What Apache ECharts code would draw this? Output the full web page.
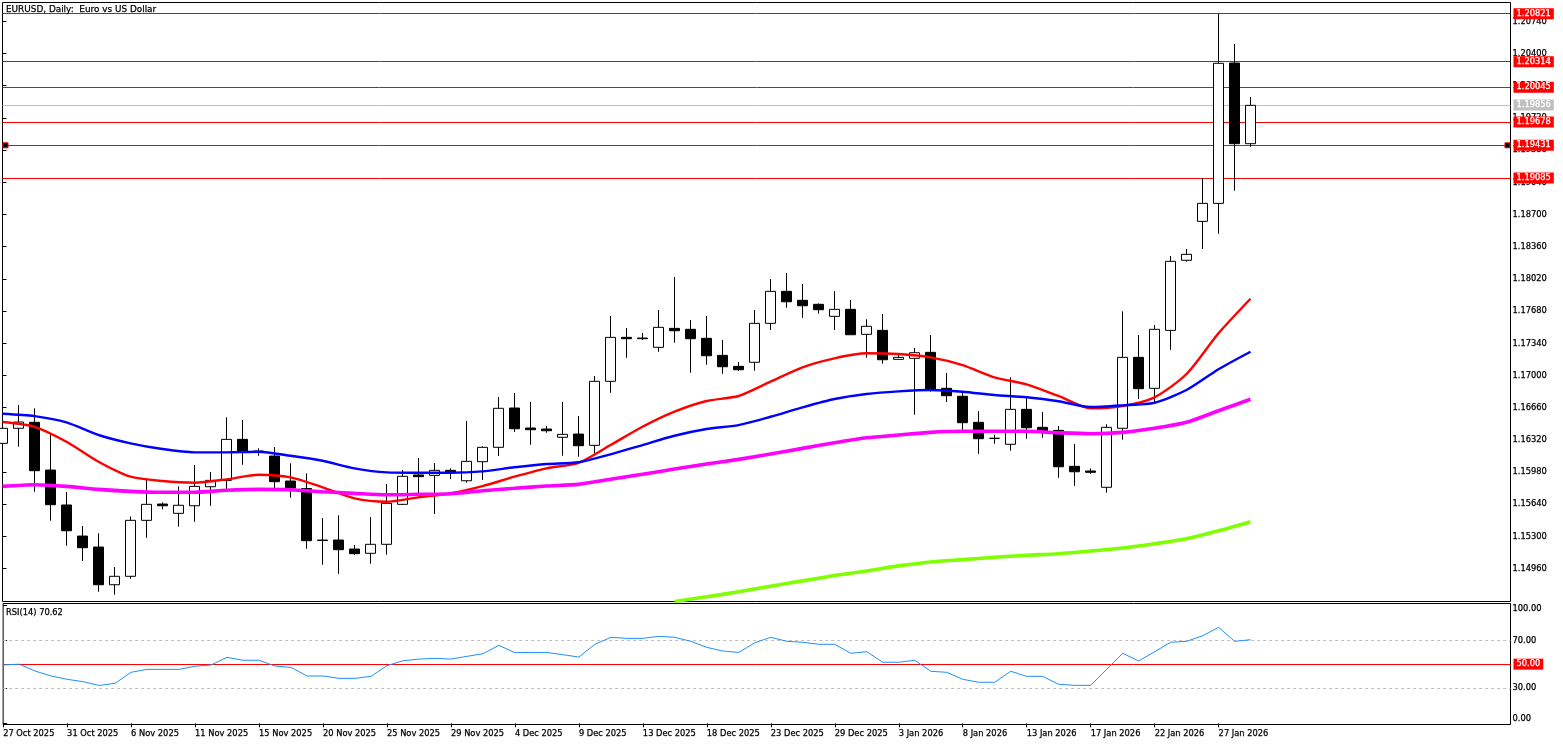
<!DOCTYPE html>
<html>
<head>
<meta charset="utf-8">
<title>EURUSD Daily</title>
<script src="https://cdn.jsdelivr.net/npm/echarts@6/dist/echarts.min.js"></script>
<style>
  html, body { margin: 0; padding: 0; background: #fff; }
  #chart { width: 1563px; height: 745px; }
</style>
</head>
<body>
<div id="chart"></div>
<script>
const opens = [
  1.16284, 1.16443, 1.16506, 1.16002, 1.15633, 1.15305, 1.15189, 1.14791, 1.14880, 1.15471,
  1.15643, 1.15545, 1.15625, 1.15826, 1.15893, 1.16326, 1.16203, 1.16150, 1.15886, 1.15807,
  1.15263, 1.15263, 1.15168, 1.15123, 1.15218, 1.15640, 1.15950, 1.15946, 1.15999, 1.15889,
  1.16090, 1.16242, 1.16657, 1.16446, 1.16435, 1.16348, 1.16382, 1.16263, 1.16939, 1.17403,
  1.17396, 1.17298, 1.17498, 1.17488, 1.17393, 1.17213, 1.17097, 1.17140, 1.17551, 1.17889,
  1.17794, 1.17752, 1.17625, 1.17699, 1.17435, 1.17477, 1.17171, 1.17182, 1.17245, 1.16865,
  1.16781, 1.16506, 1.16337, 1.16274, 1.16643, 1.16453, 1.16421, 1.16041, 1.15992, 1.15820,
  1.16443, 1.17192, 1.16865, 1.17477, 1.18217, 1.18628, 1.18818, 1.20300, 1.19448
];
const closes = [
  1.16443, 1.16509, 1.15995, 1.15636, 1.15361, 1.15182, 1.14791, 1.14880, 1.15471, 1.15640,
  1.15625, 1.15630, 1.15830, 1.15893, 1.16326, 1.16203, 1.16192, 1.15879, 1.15812, 1.15256,
  1.15258, 1.15161, 1.15119, 1.15218, 1.15651, 1.15936, 1.15932, 1.15999, 1.15978, 1.16094,
  1.16242, 1.16654, 1.16438, 1.16428, 1.16417, 1.16379, 1.16259, 1.16939, 1.17403, 1.17389,
  1.17389, 1.17509, 1.17473, 1.17389, 1.17209, 1.17093, 1.17061, 1.17551, 1.17889, 1.17779,
  1.17737, 1.17695, 1.17699, 1.17431, 1.17520, 1.17167, 1.17192, 1.17241, 1.16854, 1.16787,
  1.16502, 1.16333, 1.16337, 1.16643, 1.16449, 1.16417, 1.16037, 1.15984, 1.15978, 1.16453,
  1.17192, 1.16861, 1.17488, 1.18206, 1.18280, 1.18818, 1.20297, 1.19448, 1.19853
];
const lows = [
  1.16256, 1.16248, 1.15773, 1.15467, 1.15203, 1.15041, 1.14717, 1.14686, 1.14854, 1.15287,
  1.15587, 1.15404, 1.15456, 1.15625, 1.15798, 1.16058, 1.16153, 1.15809, 1.15710, 1.15171,
  1.15002, 1.14907, 1.15105, 1.15013, 1.15108, 1.15633, 1.15720, 1.15538, 1.15907, 1.15868,
  1.15897, 1.16150, 1.16404, 1.16269, 1.16396, 1.16153, 1.16143, 1.16179, 1.16818, 1.17188,
  1.17375, 1.17251, 1.17346, 1.17030, 1.17114, 1.17019, 1.17048, 1.17051, 1.17481, 1.17716,
  1.17610, 1.17653, 1.17481, 1.17431, 1.17188, 1.17125, 1.17167, 1.16586, 1.16829, 1.16720,
  1.16417, 1.16174, 1.16280, 1.16206, 1.16333, 1.16343, 1.15921, 1.15836, 1.15963, 1.15763,
  1.16322, 1.16752, 1.16710, 1.17272, 1.18202, 1.18336, 1.18497, 1.18951, 1.19416
];
const highs = [
  1.16467, 1.16689, 1.16654, 1.16390, 1.15770, 1.15411, 1.15334, 1.14978, 1.15513, 1.15897,
  1.15661, 1.15830, 1.16055, 1.15981, 1.16559, 1.16530, 1.16231, 1.16245, 1.16073, 1.15967,
  1.15495, 1.15524, 1.15210, 1.15506, 1.15854, 1.16002, 1.16129, 1.16076, 1.16020, 1.16520,
  1.16252, 1.16773, 1.16815, 1.16720, 1.16467, 1.16720, 1.16572, 1.16995, 1.17628, 1.17502,
  1.17449, 1.17692, 1.18040, 1.17586, 1.17628, 1.17375, 1.17143, 1.17692, 1.18019, 1.18082,
  1.17966, 1.17762, 1.17892, 1.17797, 1.17594, 1.17650, 1.17227, 1.17291, 1.17428, 1.17027,
  1.16826, 1.16625, 1.16375, 1.16981, 1.16759, 1.16615, 1.16467, 1.16277, 1.16020, 1.16485,
  1.17678, 1.17428, 1.17533, 1.18262, 1.18336, 1.19086, 1.20820, 1.20500, 1.19941
];

// moving averages, read every second candle
const maRed = [
  1.16509, 1.16459, 1.16301, 1.16090, 1.15932, 1.15886, 1.15868, 1.15904, 1.15953, 1.15925,
  1.15820, 1.15703, 1.15668, 1.15714, 1.15756, 1.15833, 1.15932, 1.16020, 1.16079, 1.16266,
  1.16459, 1.16618, 1.16731, 1.16784, 1.16935, 1.17087, 1.17182, 1.17235, 1.17227, 1.17192,
  1.17111, 1.16981, 1.16907, 1.16784, 1.16654, 1.16678, 1.16770, 1.17016, 1.17446, 1.17811
];
const maBlue = [
  1.16597, 1.16572, 1.16506, 1.16372, 1.16284, 1.16224, 1.16189, 1.16189, 1.16195, 1.16153,
  1.16100, 1.16020, 1.15978, 1.15974, 1.15974, 1.15988, 1.16031, 1.16066, 1.16084, 1.16168,
  1.16266, 1.16364, 1.16435, 1.16477, 1.16565, 1.16664, 1.16752, 1.16805, 1.16833, 1.16847,
  1.16829, 1.16794, 1.16770, 1.16728, 1.16667, 1.16685, 1.16713, 1.16847, 1.17066, 1.17251
];
const maMagenta = [
  1.15830, 1.15847, 1.15830, 1.15798, 1.15777, 1.15767, 1.15767, 1.15788, 1.15798, 1.15794,
  1.15773, 1.15756, 1.15741, 1.15746, 1.15752, 1.15784, 1.15809, 1.15833, 1.15851, 1.15904,
  1.15957, 1.16013, 1.16066, 1.16115, 1.16171, 1.16231, 1.16290, 1.16343, 1.16372, 1.16400,
  1.16411, 1.16411, 1.16411, 1.16396, 1.16386, 1.16400, 1.16443, 1.16506, 1.16628, 1.16749
];
// the green one only enters the visible range at candle 42
const maGreenStart = 42;
const maGreen = [
  1.14614, 1.14664, 1.14716, 1.14776, 1.14832, 1.14888, 1.14937, 1.14990, 1.15031, 1.15056,
  1.15081, 1.15102, 1.15119, 1.15147, 1.15179, 1.15224, 1.15276, 1.15360, 1.15457
];

const rsiValues = [
  49.3, 50, 44.2, 40, 37.2, 35.2, 32, 33.8, 43.1, 45.6, 45.6, 45.6, 48.2, 49.3, 55.8, 53.3,
  53.3, 48.4, 47.3, 40, 40, 38, 38, 39.7, 48.7, 52.9, 54.3, 54.9, 54.3, 56.6, 58.8, 65.9,
  59.7, 59.9, 59.9, 58, 56, 66.8, 72.7, 71.8, 71.8, 73.5, 72.7, 69.3, 64.2, 61.1, 59.9, 68.1,
  72.7, 69.3, 68.5, 66.8, 66.8, 59.2, 60.5, 51.6, 51.6, 53.3, 44, 43.1, 37.2, 34.7, 34.7, 44,
  39.7, 39.7, 33, 32.1, 32.1, 45.6, 59.2, 52.7, 60.5, 68.5, 69.3, 74, 81.1, 69.3, 70.62
];

const dateLabels = [
  '27 Oct 2025', '31 Oct 2025', '6 Nov 2025', '11 Nov 2025', '15 Nov 2025', '20 Nov 2025',
  '25 Nov 2025', '29 Nov 2025', '4 Dec 2025', '9 Dec 2025', '13 Dec 2025', '18 Dec 2025',
  '23 Dec 2025', '29 Dec 2025', '3 Jan 2026', '8 Jan 2026', '13 Jan 2026', '17 Jan 2026',
  '22 Jan 2026', '27 Jan 2026'
];
const priceTicks = [
  1.20740, 1.20400, 1.20060, 1.19720, 1.19380, 1.19040, 1.18700, 1.18360, 1.18020, 1.17680,
  1.17340, 1.17000, 1.16660, 1.16320, 1.15980, 1.15640, 1.15300, 1.14960
];
const rsiTicks = [0, 30, 70, 100];
const redLevels = [1.20821, 1.20314, 1.20045, 1.19678, 1.19431, 1.19085];
const lastPrice = 1.19856;
const selectedLevel = 1.19431;

const FONT = '"DejaVu Sans"';
const FSIZE = 8.3;
const CANDLES_PER_LABEL = 4;
const xMax = 94.25;
// the original text is a hard bitmap font, a hairline stroke gets close to its weight
const darkText = { color: '#000', fontFamily: FONT, fontSize: FSIZE, textBorderColor: '#000', textBorderWidth: 0.25 };
const tagText = {
  show: true,
  position: 'end',
  distance: 3,
  color: '#fff',
  padding: [2, 3, 1, 3],
  fontFamily: FONT,
  fontSize: FSIZE,
  textBorderColor: '#fff',
  textBorderWidth: 0.25
};

const tickValues = dateLabels.map((d, i) => i * CANDLES_PER_LABEL);
const candleData = opens.map((o, i) => [i, o, closes[i], lows[i], highs[i]]);
const everySecond = arr => arr.map((v, i) => [i * 2, v]);

function maLine(name, color, width, data) {
  return {
    name: name,
    type: 'line',
    data: data,
    symbol: 'none',
    smooth: 0.25,
    silent: true,
    z: 3,
    lineStyle: { color: color, width: width }
  };
}

function levelLine(value, color) {
  return {
    yAxis: value,
    lineStyle: { color: color, width: 1, type: 'solid' },
    label: Object.assign({}, tagText, { formatter: value.toFixed(5), backgroundColor: color })
  };
}

const chart = echarts.init(document.getElementById('chart'));
chart.setOption({
  animation: false,
  backgroundColor: '#fff',
  title: [
    {
      text: 'EURUSD, Daily:  Euro vs US Dollar',
      left: 6, top: 5, padding: 0,
      textStyle: Object.assign({}, darkText, { fontSize: 8.9, fontWeight: 'normal' })
    },
    {
      text: 'RSI(14) 70.62',
      left: 6, top: 609, padding: 0,
      textStyle: Object.assign({}, darkText, { fontWeight: 'normal' })
    }
  ],
  grid: [
    { left: 2.5, top: 2.5, width: 1508, height: 599, show: true, borderColor: '#000', borderWidth: 1, backgroundColor: '#fff' },
    { left: 2.5, top: 603.5, width: 1508, height: 121, show: true, borderColor: '#000', borderWidth: 1, backgroundColor: '#fff' }
  ],
  xAxis: [
    {
      type: 'value', gridIndex: 0, min: 0, max: xMax,
      axisLine: { show: false }, axisTick: { show: false }, axisLabel: { show: false }, splitLine: { show: false }
    },
    {
      type: 'value', gridIndex: 1, min: 0, max: xMax,
      axisLine: { show: false },
      axisTick: { show: true, length: 4, customValues: tickValues, lineStyle: { color: '#000' } },
      axisLabel: Object.assign({}, darkText, {
        show: true,
        customValues: tickValues,
        formatter: v => dateLabels[v / CANDLES_PER_LABEL],
        align: 'left',
        margin: 5
      }),
      splitLine: { show: false }
    }
  ],
  yAxis: [
    {
      type: 'value', gridIndex: 0, position: 'right', min: 1.14614, max: 1.20939,
      axisLine: { show: false },
      axisTick: { show: true, length: 4, customValues: priceTicks, lineStyle: { color: '#000' } },
      axisLabel: Object.assign({}, darkText, {
        show: true,
        customValues: priceTicks,
        formatter: v => v.toFixed(5),
        margin: 2
      }),
      splitLine: { show: false }
    },
    {
      type: 'value', gridIndex: 1, position: 'right', min: -1, max: 101.27,
      axisLine: { show: false },
      axisTick: { show: true, length: 4, customValues: rsiTicks, lineStyle: { color: '#000' } },
      axisLabel: Object.assign({}, darkText, {
        show: true,
        customValues: rsiTicks,
        formatter: v => v.toFixed(2),
        margin: 2,
        verticalAlignMinLabel: 'bottom',
        verticalAlignMaxLabel: 'top'
      }),
      splitLine: { show: false }
    }
  ],
  series: [
    {
      // horizontal levels sit behind the candles, their tags over the axis labels
      name: 'levels',
      type: 'line',
      xAxisIndex: 0, yAxisIndex: 0,
      data: [],
      z: 1,
      silent: true,
      markLine: {
        silent: true,
        symbol: 'none',
        animation: false,
        precision: 5,
        z: 1,
        data: [levelLine(lastPrice, '#c0c0c0')].concat(redLevels.map(v => levelLine(v, '#ff0000')))
      },
      markPoint: {
        silent: true,
        animation: false,
        z: 1,
        symbol: 'rect',
        symbolSize: 5,
        label: { show: false },
        itemStyle: { color: '#000', borderColor: '#ff0000', borderWidth: 1 },
        data: [
          { coord: [0.19, selectedLevel] },
          { coord: [94.06, selectedLevel] }
        ]
      }
    },
    {
      name: 'EURUSD',
      type: 'candlestick',
      xAxisIndex: 0, yAxisIndex: 0,
      data: candleData,
      barWidth: 11,
      z: 2,
      silent: true,
      itemStyle: {
        color: '#fff',
        color0: '#000',
        borderColor: '#000',
        borderColor0: '#000',
        borderColorDoji: '#000',
        borderWidth: 1
      }
    },
    maLine('MA red', '#ff0000', 2.4, everySecond(maRed)),
    maLine('MA blue', '#0000ff', 2.4, everySecond(maBlue)),
    maLine('MA magenta', '#ff00ff', 3.6, everySecond(maMagenta)),
    maLine('MA green', '#7fff00', 3.6, maGreen.map((v, i) => [maGreenStart + i * 2, v])),
    {
      name: 'RSI',
      type: 'line',
      xAxisIndex: 1, yAxisIndex: 1,
      data: rsiValues.map((v, i) => [i, v]),
      symbol: 'none',
      silent: true,
      z: 3,
      lineStyle: { color: '#1e90ff', width: 1 },
      markLine: {
        silent: true,
        symbol: 'none',
        animation: false,
        z: 1,
        data: [
          { yAxis: 70, lineStyle: { color: '#c0c0c0', width: 1, type: [3, 3] }, label: { show: false } },
          { yAxis: 30, lineStyle: { color: '#c0c0c0', width: 1, type: [3, 3] }, label: { show: false } },
          {
            yAxis: 50,
            lineStyle: { color: '#ff0000', width: 1, type: 'solid' },
            label: Object.assign({}, tagText, { formatter: '50.00', backgroundColor: '#ff0000' })
          }
        ]
      }
    }
  ]
});
</script>
</body>
</html>
